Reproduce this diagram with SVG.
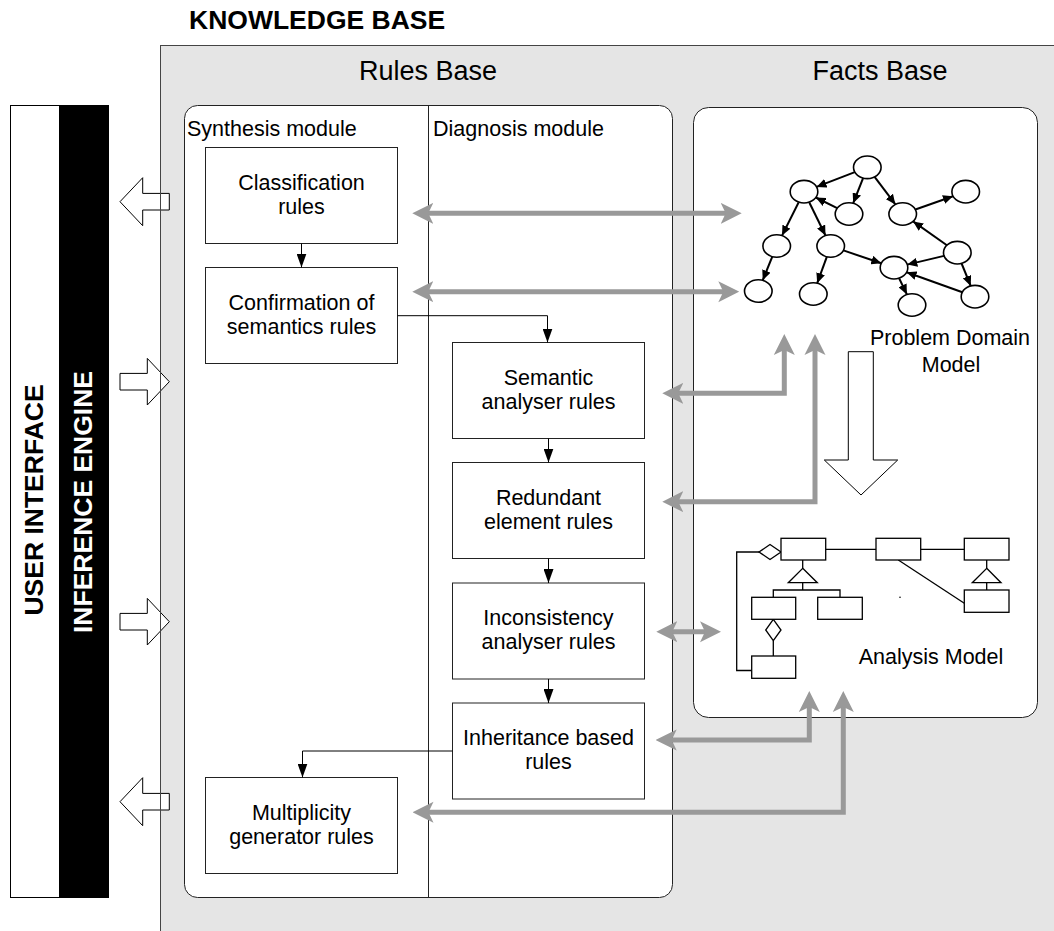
<svg xmlns="http://www.w3.org/2000/svg" width="1054" height="931" viewBox="0 0 1054 931">
  <style>
    text { font-family: "Liberation Sans", Arial, sans-serif; fill: #000; }
    .title { font-size: 26.5px; font-weight: bold; }
    .band { font-size: 27px; }
    .label { font-size: 21.5px; }
    .mid { text-anchor: middle; }
    .panel { fill: #fff; stroke: #222; stroke-width: 1; }
    .rule { fill: #fff; stroke: #222; stroke-width: 1; }
    .flow { fill: none; stroke: #000; stroke-width: 1; marker-end: url(#head); }
    .link { fill: none; stroke: #999; stroke-width: 5; stroke-linejoin: miter; marker-end: url(#gray); }
    .both { marker-start: url(#gray); }
    .block { fill: #fff; stroke: #000; stroke-width: 1; }
    .node { fill: #fff; stroke: #000; stroke-width: 1.6; }
    .edge { stroke: #000; stroke-width: 2; marker-end: url(#small); }
    .cls { fill: #fff; stroke: #000; stroke-width: 1.3; }
    .uml { fill: none; stroke: #000; stroke-width: 1.3; }
  </style>
  <defs>
    <marker id="head" markerUnits="userSpaceOnUse" markerWidth="14" markerHeight="10" refX="14" refY="5" orient="auto">
      <path d="M0,0 L14,5 L0,10 z" fill="#000"/>
    </marker>
    <marker id="small" markerUnits="userSpaceOnUse" markerWidth="10" markerHeight="9" refX="10" refY="4.5" orient="auto">
      <path d="M0,0 L10,4.5 L0,9 z" fill="#000"/>
    </marker>
    <marker id="gray" markerUnits="userSpaceOnUse" markerWidth="21" markerHeight="22" refX="10" refY="11" orient="auto-start-reverse">
      <path d="M0,0.5 L21,11 L0,21.5 L5,11 z" fill="#999"/>
    </marker>
  </defs>

  <!-- page background -->
  <rect x="0" y="0" width="1054" height="931" fill="#fff"/>

  <!-- knowledge base container -->
  <g id="knowledge-base">
    <rect x="160.5" y="45.5" width="900" height="900" fill="#e5e5e5" stroke="#444" stroke-width="1"/>
    <text class="title" x="189" y="29">KNOWLEDGE BASE</text>
    <text class="band mid" x="428" y="80">Rules Base</text>
    <text class="band mid" x="880" y="80">Facts Base</text>
  </g>

  <!-- user interface and inference engine columns -->
  <g id="user-interface">
    <rect x="10.5" y="105.5" width="49" height="792" fill="#fff" stroke="#000" stroke-width="1"/>
    <text class="title mid" transform="translate(43,500) rotate(-90)">USER INTERFACE</text>
  </g>
  <g id="inference-engine">
    <rect x="59.5" y="105.5" width="49" height="792" fill="#000" stroke="#000" stroke-width="1"/>
    <text class="title mid" transform="translate(91.5,502) rotate(-90)" style="fill:#fff">INFERENCE ENGINE</text>
  </g>

  <!-- exchange arrows between the engine and the knowledge base -->
  <g id="engine-exchange">
    <polygon class="block" points="120,201.7 142.7,177.7 142.7,193.4 169.3,193.4 169.3,210 142.7,210 142.7,225.7"/>
    <polygon class="block" points="120,373.4 147.3,373.4 147.3,358.4 169.3,381.7 147.3,405 147.3,390 120,390"/>
    <polygon class="block" points="120,613.4 147.3,613.4 147.3,598.4 169.3,621.7 147.3,645 147.3,630 120,630"/>
    <polygon class="block" points="120,801.7 142.7,777.7 142.7,793.4 169.3,793.4 169.3,810 142.7,810 142.7,825.7"/>
    <line x1="160.5" y1="180" x2="160.5" y2="830" stroke="#444" stroke-width="1"/>
  </g>

  <!-- rules base panel -->
  <g id="rules-base">
    <rect class="panel" x="184.5" y="105.5" width="488" height="792" rx="13"/>
    <line x1="428.5" y1="105.5" x2="428.5" y2="897.5" stroke="#222" stroke-width="1"/>
    <text class="label" x="187" y="136">Synthesis module</text>
    <text class="label" x="433" y="136">Diagnosis module</text>
  </g>

  <!-- facts base panel -->
  <g id="facts-base">
    <rect class="panel" x="693.5" y="107.5" width="344" height="610" rx="15"/>
  </g>

  <!-- synthesis module rules -->
  <g id="classification-rules">
    <rect class="rule" x="205.5" y="147.5" width="192" height="96"/>
    <text class="label mid" x="301.5" y="190">Classification</text>
    <text class="label mid" x="301.5" y="214">rules</text>
  </g>
  <g id="confirmation-rules">
    <rect class="rule" x="205.5" y="267.5" width="192" height="96"/>
    <text class="label mid" x="301.5" y="309.5">Confirmation of</text>
    <text class="label mid" x="301.5" y="333.5">semantics rules</text>
  </g>
  <g id="multiplicity-rules">
    <rect class="rule" x="205.5" y="777.5" width="192" height="96"/>
    <text class="label mid" x="301.5" y="819.5">Multiplicity</text>
    <text class="label mid" x="301.5" y="843.5">generator rules</text>
  </g>

  <!-- diagnosis module rules -->
  <g id="semantic-rules">
    <rect class="rule" x="452.5" y="342.5" width="192" height="96"/>
    <text class="label mid" x="548.5" y="384.5">Semantic</text>
    <text class="label mid" x="548.5" y="408.5">analyser rules</text>
  </g>
  <g id="redundant-rules">
    <rect class="rule" x="452.5" y="462.5" width="192" height="96"/>
    <text class="label mid" x="548.5" y="504.5">Redundant</text>
    <text class="label mid" x="548.5" y="528.5">element rules</text>
  </g>
  <g id="inconsistency-rules">
    <rect class="rule" x="452.5" y="583" width="192" height="96"/>
    <text class="label mid" x="548.5" y="625">Inconsistency</text>
    <text class="label mid" x="548.5" y="649">analyser rules</text>
  </g>
  <g id="inheritance-rules">
    <rect class="rule" x="452.5" y="703" width="192" height="96"/>
    <text class="label mid" x="548.5" y="745">Inheritance based</text>
    <text class="label mid" x="548.5" y="769">rules</text>
  </g>

  <!-- problem domain model: a small directed graph -->
  <g id="problem-domain-model">
    <g>
      <line class="edge" x1="854.8" y1="172.1" x2="816.5" y2="186.9"/>
      <line class="edge" x1="863.1" y1="178.1" x2="853.2" y2="203.2"/>
      <line class="edge" x1="874.6" y1="176.9" x2="895.4" y2="204.4"/>
      <line class="edge" x1="837.2" y1="208.2" x2="815.8" y2="197.5"/>
      <line class="edge" x1="915.4" y1="209.5" x2="953" y2="196.2"/>
      <line class="edge" x1="798.7" y1="202.2" x2="782" y2="235.6"/>
      <line class="edge" x1="809.2" y1="202.2" x2="825.5" y2="235.5"/>
      <line class="edge" x1="946.9" y1="245.3" x2="913.1" y2="221.4"/>
      <line class="edge" x1="843.4" y1="250.4" x2="881.3" y2="263.3"/>
      <line class="edge" x1="944" y1="255.9" x2="907.3" y2="264.6"/>
      <line class="edge" x1="772.3" y1="256.7" x2="762.7" y2="280.3"/>
      <line class="edge" x1="826.8" y1="256.8" x2="817.2" y2="283.2"/>
      <line class="edge" x1="899.1" y1="278.3" x2="906.9" y2="294.4"/>
      <line class="edge" x1="961.6" y1="263.5" x2="970.7" y2="285.9"/>
      <line class="edge" x1="962.4" y1="292.2" x2="906.6" y2="272.2"/>
    </g>
    <g>
      <ellipse class="node" cx="867.3" cy="167.3" rx="13.8" ry="11.3"/>
      <ellipse class="node" cx="804" cy="191.7" rx="13.8" ry="11.3"/>
      <ellipse class="node" cx="849" cy="214" rx="13.8" ry="11.3"/>
      <ellipse class="node" cx="902.7" cy="214" rx="13.8" ry="11.3"/>
      <ellipse class="node" cx="965.7" cy="191.7" rx="13.8" ry="11.3"/>
      <ellipse class="node" cx="776.7" cy="246" rx="13.8" ry="11.3"/>
      <ellipse class="node" cx="830.7" cy="246" rx="13.8" ry="11.3"/>
      <ellipse class="node" cx="957.3" cy="252.7" rx="13.8" ry="11.3"/>
      <ellipse class="node" cx="894" cy="267.7" rx="13.8" ry="11.3"/>
      <ellipse class="node" cx="758.3" cy="291" rx="13.8" ry="11.3"/>
      <ellipse class="node" cx="813.3" cy="294" rx="13.8" ry="11.3"/>
      <ellipse class="node" cx="912" cy="305" rx="13.8" ry="11.3"/>
      <ellipse class="node" cx="975" cy="296.7" rx="13.8" ry="11.3"/>
    </g>
    <text class="label mid" x="950" y="345">Problem Domain</text>
    <text class="label mid" x="951" y="371.5">Model</text>
  </g>

  <!-- transformation from the problem domain model to the analysis model -->
  <g id="model-transformation">
    <polygon class="block" points="848.3,351.7 873.3,351.7 873.3,460 897.7,460 861,495 824.3,460 848.3,460"/>
  </g>

  <!-- analysis model: class diagram sketch -->
  <g id="analysis-model">
    <path class="uml" d="M825.7,549.3 H876 M920.7,549.3 H964.3"/>
    <path class="uml" d="M759,552 H736.7 V670.5 H751.7"/>
    <path class="uml" d="M802.7,560 V568.3 M802.7,582.7 V590 M773.3,597.3 V590 H840 V597.3"/>
    <path class="uml" d="M773.3,640.7 V656"/>
    <path class="uml" d="M898.3,560 L964.3,603.3"/>
    <path class="uml" d="M986.7,560 V568.3 M986.7,582.7 V590"/>
    <polygon class="cls" points="759,552 770,544.5 781,552 770,559.5"/>
    <polygon class="cls" points="802.7,568.3 817.3,582.7 788.3,582.7"/>
    <polygon class="cls" points="986.7,568.3 1001,582.7 972.3,582.7"/>
    <polygon class="cls" points="773.3,619.3 781,630 773.3,640.7 765.7,630"/>
    <rect class="cls" x="781" y="538.3" width="44.7" height="21.7"/>
    <rect class="cls" x="876" y="538.3" width="44.7" height="21.7"/>
    <rect class="cls" x="964.3" y="538.3" width="44.7" height="21.7"/>
    <rect class="cls" x="751.7" y="597.3" width="44" height="22"/>
    <rect class="cls" x="817.7" y="597.3" width="44.6" height="22"/>
    <rect class="cls" x="751.7" y="656" width="44" height="22.3"/>
    <rect class="cls" x="964.3" y="590" width="44.7" height="22.3"/>
    <circle cx="900" cy="597.3" r="0.8" fill="#000"/>
    <text class="label mid" x="931" y="663.5">Analysis Model</text>
  </g>

  <!-- connectors: rule sequencing and knowledge access -->
  <g id="connectors">
    <path class="flow" d="M301.5,243.5 V267.5"/>
    <path class="flow" d="M397.5,315.7 H547.5 V342.5"/>
    <path class="flow" d="M548.5,438.5 V462.5"/>
    <path class="flow" d="M548.5,558.5 V583"/>
    <path class="flow" d="M548.5,679 V703"/>
    <path class="flow" d="M452.5,751 H302.5 V777.5"/>

    <path class="link both" d="M423.3,213.3 H730.7"/>
    <path class="link both" d="M423.3,291.7 H728.3"/>
    <path class="link both" d="M673.3,393.3 H784.3 V345"/>
    <path class="link both" d="M673.3,501.7 H815 V345"/>
    <path class="link both" d="M667.3,631.7 H710"/>
    <path class="link both" d="M666.7,740 H809.3 V702"/>
    <path class="link both" d="M423.5,812.3 H843.3 V702"/>
  </g>
</svg>
